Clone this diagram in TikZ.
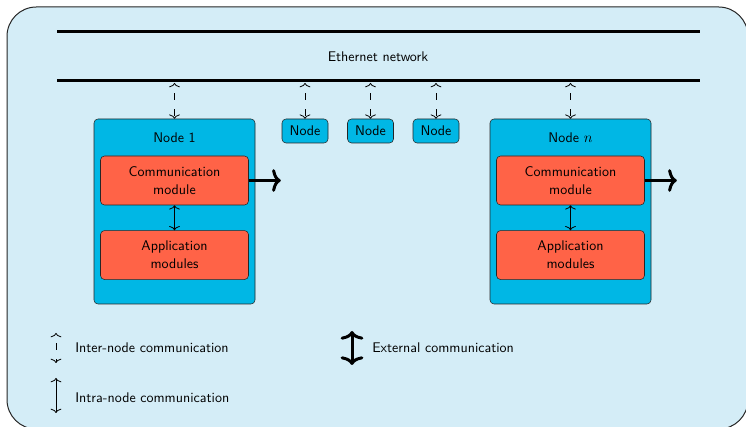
\documentclass[tikz,border=0pt]{standalone}
\usepackage{amsmath}
\usepackage{amssymb}
\usepackage[usenames, x11names]{xcolor}
\usetikzlibrary{positioning}
\usetikzlibrary{arrows.meta}

\definecolor{bgblue}{RGB}{212,237,247}
\definecolor{nodeblue}{RGB}{0,183,229}
\definecolor{modred}{RGB}{255,99,71}

\tikzset{
	nodebox/.style={draw=black!85,fill=nodeblue,rounded corners=3pt,minimum width=120.75pt,minimum height=138.75pt},
	smallbox/.style={draw=black!85,fill=nodeblue,rounded corners=3pt,minimum width=34.5pt,minimum height=18pt,inner sep=0pt},
	modbox/.style={draw=black!85,fill=modred,rounded corners=3pt,minimum width=111pt,minimum height=36.75pt,align=center,inner sep=0pt},
	ethline/.style={line width=2.25pt,line cap=butt},
	thintip/.tip={To[length=3.2pt,width=8pt]},
	thicktip/.tip={To[length=6.5pt,width=17pt]},
	inter/.style={thintip-thintip,line width=0.6pt,dash pattern=on 5pt off 7pt,dash phase=5pt},
	intra/.style={thintip-thintip,line width=0.6pt},
	extern/.style={-thicktip,line width=2.25pt},
	externboth/.style={thicktip-thicktip,line width=2.25pt},
	legend/.style={anchor=west,inner sep=0pt}
}

\begin{document}
\begin{tikzpicture}[x=0.75pt,y=-0.75pt,line join=round,font=\sffamily\fontsize{10.5}{13.5}\selectfont]
		\useasboundingbox (0,0) rectangle (746,427);
		% background panel
		\draw[draw=black!85,fill=bgblue,line width=0.75pt,rounded corners=22pt] (7,7) rectangle (748,429);
		
		% the two bus lines
		\draw[ethline] (57,32) -- (700,32);
		\draw[ethline] (57,81) -- (700,81);
		\node (eth) at (378,57) {Ethernet network};
		\coordinate (bus) at (0,83);
		
		% first node
		\node[nodebox] (n1) at (174.5,211.5) {};
		\node[below=7pt of n1.north] (n1title) {Node 1};
		\node[modbox,below=27.75pt of n1.north] (comm1) {Communication\\module};
		\node[modbox,below=18.75pt of comm1] (app1) {Application\\modules};
		\draw[intra] (comm1) -- (app1);
		\coordinate[right=24pt of comm1.east] (ext1);
		\draw[extern] (comm1.east) -- (ext1);
		
		% the small nodes between
		\node[smallbox] (s1) at (305,131) {Node};
		\node[smallbox] (s2) at (370.5,131) {Node};
		\node[smallbox] (s3) at (436,131) {Node};
		
		% last node
		\node[nodebox] (nn) at (570.5,211.5) {};
		\node[below=7pt of nn.north] (nntitle) {Node $n$};
		\node[modbox,below=27.75pt of nn.north] (commn) {Communication\\module};
		\node[modbox,below=18.75pt of commn] (appn) {Application\\modules};
		\draw[intra] (commn) -- (appn);
		\coordinate[right=24pt of commn.east] (extn);
		\draw[extern] (commn.east) -- (extn);
		
		% links to the bus
		\foreach \n in {n1,s1,s2,s3,nn}
			\draw[inter] (\n.north |- bus) -- (\n.north);
		
		% legend
		\node[legend] (leginter) at (75,348) {Inter-node communication};
		\node[legend] (legintra) at (75,398) {Intra-node communication};
		\node[legend] (legext) at (372,348) {External communication};
		\coordinate (li1) at (56,333);
		\coordinate (li2) at (56,363);
		\coordinate (la1) at (56,378);
		\coordinate (la2) at (56,413);
		\coordinate (le1) at (352,331);
		\coordinate (le2) at (352,365);
		\draw[inter] (li1) -- (li2);
		\draw[intra] (la1) -- (la2);
		\draw[externboth] (le1) -- (le2);
		
\end{tikzpicture}
\end{document}
